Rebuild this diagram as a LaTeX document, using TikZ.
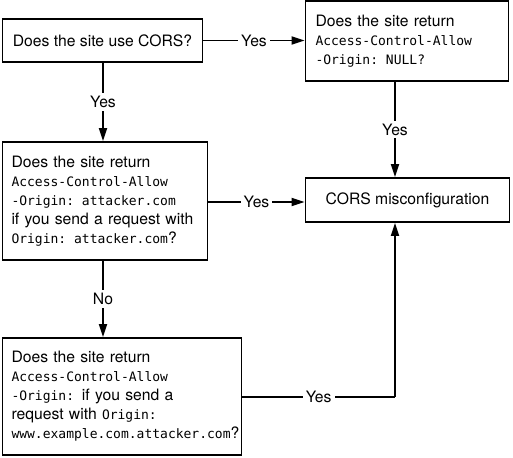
\documentclass[tikz,border=0pt]{standalone}
\usepackage{fontspec}
\setmainfont{TeX Gyre Heros}
\setmonofont{DejaVu Sans Mono}[Scale=1]
\usetikzlibrary{arrows.meta}
\newcommand{\mc}[1]{{\fontsize{13pt}{19pt}\selectfont\ttfamily #1}}
\begin{document}
\begin{tikzpicture}[x=1pt,y=-1pt,
  box/.style={draw, line width=1.9pt, inner xsep=10pt, inner ysep=0pt,
    font=\fontsize{15.7pt}{19pt}\selectfont},
  lbox/.style={box, align=left},
  lab/.style={fill=white, inner sep=3pt, font=\fontsize{15.7pt}{19pt}\selectfont},
  conn/.style={line width=1.9pt, -{Triangle[length=13pt,width=8pt]}},
  plain/.style={line width=1.9pt}]
\useasboundingbox (0,0) rectangle (513,457);
\node[box, minimum width=200pt, minimum height=43pt] (a) at (102.5,40.5) {Does the site use CORS?};
\node[lbox, text width=183pt, minimum height=80pt] (b) at (407,41)
  {Does the site return\\\mc{Access-Control-Allow}\\\mc{-Origin: NULL?}};
\node[lbox, inner xsep=9pt, text width=187pt, minimum height=118pt] (c) at (105,201)
  {Does the site return\\\mc{Access-Control-Allow}\\\mc{-Origin: attacker.com}\\\mbox{if you send a request with}\\\mc{Origin: attacker.com}?};
\node[box, minimum width=204pt, minimum height=44pt] (d) at (407.5,200) {CORS misconfiguration};
\node[lbox, inner xsep=9pt, text width=221pt, minimum height=117pt] (e) at (122,396.5)
  {Does the site return\\\mc{Access-Control-Allow}\\\mc{-Origin:} if you send a\\request with \mc{Origin:}\\\mbox{\mc{www.example.com.attacker.com}?}};
\coordinate (vx) at (395,0);
\coordinate (vl) at (103,0);
\draw[conn] (a.east) -- node[lab] {Yes} (b.west |- a.east);
\draw[conn] (a.south -| vl) -- node[lab] {Yes} (c.north -| vl);
\draw[conn] (b.south -| vx) -- node[lab] {Yes} (d.north -| vx);
\draw[conn] (c.east |- 0,202) -- node[lab] {Yes} (d.west |- 0,202);
\draw[conn] (c.south -| vl) -- node[lab] {No} (e.north -| vl);
\coordinate (corner) at (395,397);
\draw[plain] (e.east |- corner) -- node[lab] {Yes} (corner);
\draw[conn] (corner) -- (d.south -| vx);
\end{tikzpicture}
\end{document}
